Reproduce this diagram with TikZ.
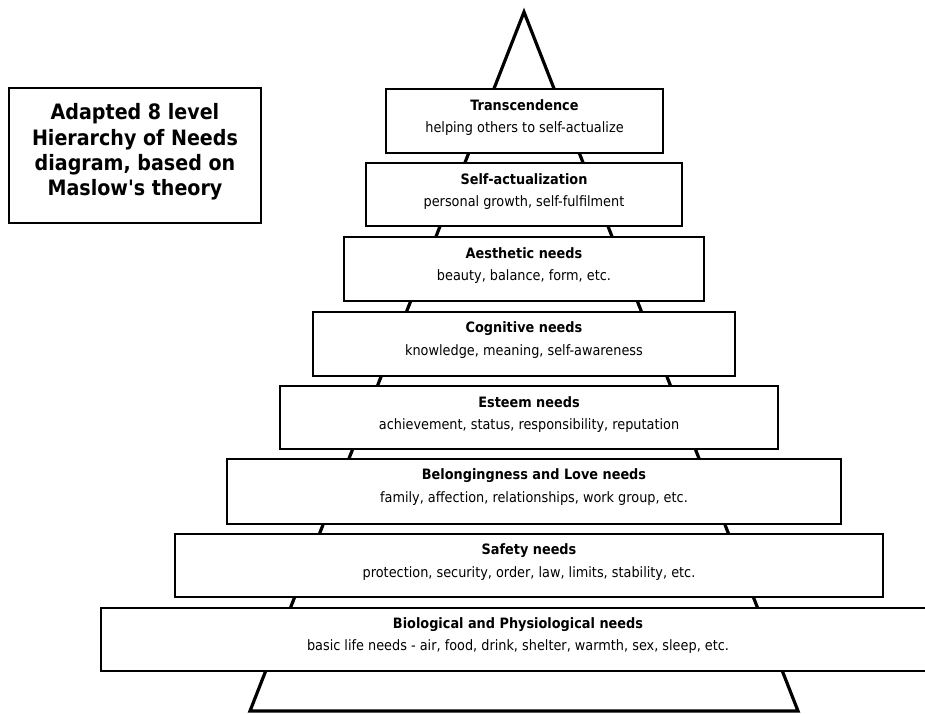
\documentclass[tikz,border=0pt]{standalone}
\usepackage{fontspec}
\setmainfont{DejaVu Sans Condensed}[Ligatures=TeXOff]
\begin{document}
\begin{tikzpicture}[x=1pt,y=-1pt,
  lvl/.style={draw=black, line width=2.6pt, fill=white, inner sep=0pt},
  head/.style={inner sep=0pt, font=\fontsize{14.3}{16}\selectfont\bfseries},
  sub/.style={inner sep=0pt, font=\fontsize{14.3}{16}\selectfont},
  titlebox/.style={draw=black, line width=2.6pt, fill=white, inner sep=0pt},
  titletext/.style={inner sep=0pt, align=center, font=\fontsize{21.2}{25.3}\selectfont\bfseries}]
\clip (0,0) rectangle (925,713);
\fill[white] (0,0) rectangle (925,713);
% pyramid
\coordinate (apex) at (524,12);
\coordinate (bl) at (250,711);
\coordinate (br) at (798,711);
\draw[line width=3.2pt, line join=miter] (bl) -- (apex) -- (br) -- cycle;
% levels
\node[lvl, minimum width=277, minimum height=64] (n1) at (524.5,121) {};
\node[lvl, minimum width=316, minimum height=63] (n2) at (524,194.5) {};
\node[lvl, minimum width=360, minimum height=64] (n3) at (524,269) {};
\node[lvl, minimum width=422, minimum height=64] (n4) at (524,344) {};
\node[lvl, minimum width=498, minimum height=63] (n5) at (529,417.5) {};
\node[lvl, minimum width=614, minimum height=65] (n6) at (534,491.5) {};
\node[lvl, minimum width=708, minimum height=63] (n7) at (529,565.5) {};
\node[lvl, minimum width=834, minimum height=63] (n8) at (518,639.5) {};
% texts
\node[head] (t1) at ([yshift=-17.5pt]n1.north) {Transcendence};
\node[sub]  (s1) at ([yshift=-40.5pt]n1.north) {helping others to self-actualize};
\node[head] (t2) at ([yshift=-17.5pt]n2.north) {Self-actualization};
\node[sub]  (s2) at ([yshift=-40.5pt]n2.north) {personal growth, self-fulfilment};
\node[head] (t3) at ([yshift=-17.5pt]n3.north) {Aesthetic needs};
\node[sub]  (s3) at ([yshift=-40.5pt]n3.north) {beauty, balance, form, etc.};
\node[head] (t4) at ([yshift=-17.5pt]n4.north) {Cognitive needs};
\node[sub]  (s4) at ([yshift=-40.5pt]n4.north) {knowledge, meaning, self-awareness};
\node[head] (t5) at ([yshift=-17.5pt]n5.north) {Esteem needs};
\node[sub]  (s5) at ([yshift=-40.5pt]n5.north) {achievement, status, responsibility, reputation};
\node[head] (t6) at ([yshift=-17.5pt]n6.north) {Belongingness and Love needs};
\node[sub]  (s6) at ([yshift=-40.5pt]n6.north) {family, affection, relationships, work group, etc.};
\node[head] (t7) at ([yshift=-17.5pt]n7.north) {Safety needs};
\node[sub]  (s7) at ([yshift=-40.5pt]n7.north) {protection, security, order, law, limits, stability, etc.};
\node[head] (t8) at ([yshift=-17.5pt]n8.north) {Biological and Physiological needs};
\node[sub]  (s8) at ([yshift=-39.5pt]n8.north) {basic life needs - air, food, drink, shelter, warmth, sex, sleep, etc.};
% title
\node[titlebox, minimum width=252, minimum height=135] (tb) at (135,155.5) {};
\node[titletext] (tt) at (135,152) {Adapted 8 level\\Hierarchy of Needs\\diagram, based on\\Maslow's theory};
\end{tikzpicture}
\end{document}
